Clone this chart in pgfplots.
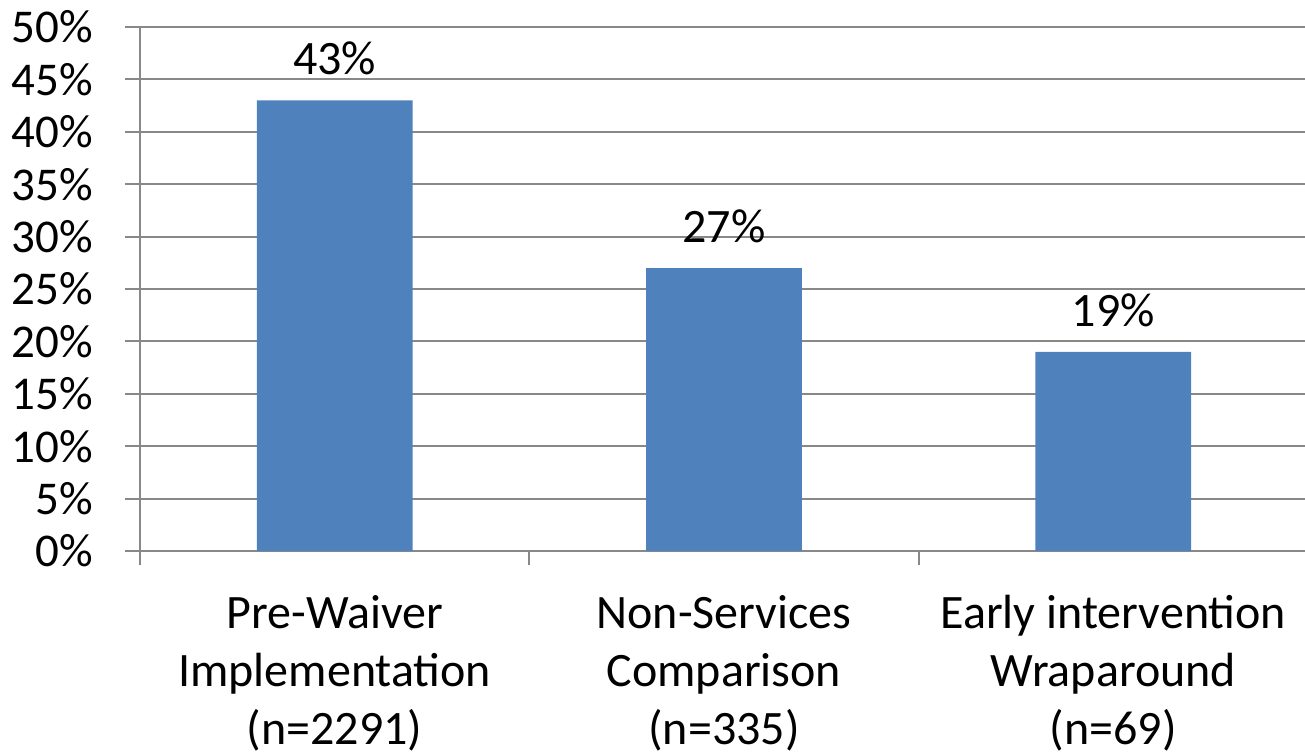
\documentclass[border=0pt]{standalone}
\usepackage{pgfplots}
\pgfplotsset{compat=1.18}
\usepackage{fontspec}
\setmainfont{Carlito}
\definecolor{barblue}{HTML}{4F81BD}
\definecolor{gridgray}{HTML}{888888}
\begin{document}
\begin{tikzpicture}
\path[use as bounding box] (-70pt,-100.5pt) rectangle (582.5pt,275.5pt);
\begin{axis}[
  at={(0,0)}, anchor=south west,
  scale only axis, width=584pt, height=262pt,
  xmin=-0.5, xmax=2.5, ymin=0, ymax=50,
  axis x line*=bottom, axis y line*=left,
  axis line style={gridgray, line width=1pt, -},
  every tick/.style={gridgray, line width=1pt},
  tick align=outside,
  ytick={0,5,10,15,20,25,30,35,40,45,50},
  yticklabels={0\%,5\%,10\%,15\%,20\%,25\%,30\%,35\%,40\%,45\%,50\%},
  major tick length=7.5pt,
  ymajorgrids, grid style={gridgray, line width=1pt},
  xtick={0,1,2},
  xticklabels={Pre-Waiver\\Implementation\\(n=2291), Non-Services\\Comparison\\(n=335), Early intervention\\Wraparound\\(n=69)},
  x tick style={draw=none},
  extra x ticks={-0.5,0.5,1.5,2.5},
  extra x tick labels={},
  extra x tick style={grid=none, x tick style={draw=gridgray, line width=1pt}, major tick length=7pt},
  xticklabel style={align=center, font=\fontsize{24}{29}\selectfont, inner sep=0pt, anchor=north, yshift=-14.5pt},
  yticklabel style={font=\fontsize{23.5}{28}\selectfont, inner sep=0pt, anchor=east, xshift=-16pt},
  nodes near coords,
  point meta=explicit symbolic,
  nodes near coords style={font=\fontsize{24}{28}\selectfont, anchor=south, inner sep=0pt, yshift=12.5pt},
  clip=false,
]
\addplot[ybar, bar width=0.4, fill=barblue, draw=none] coordinates {(0,43) [43\%] (1,27) [27\%] (2,19) [19\%]};
\end{axis}
\end{tikzpicture}
\end{document}
